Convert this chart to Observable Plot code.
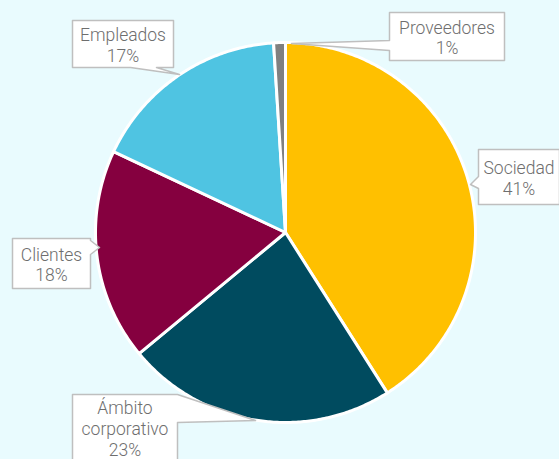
<!DOCTYPE html>
<html><head><meta charset="utf-8">
<script src="https://cdn.jsdelivr.net/npm/d3@7"></script>
<script src="https://cdn.jsdelivr.net/npm/@observablehq/plot@0.6"></script>
<style>
html,body{margin:0;padding:0;background:#e9fbfe;overflow:hidden;}
#chart svg{display:block;}
</style></head><body><div id="chart"></div>
<script>
// ---- data ----
const categories = ["Sociedad", "Ámbito corporativo", "Clientes", "Empleados", "Proveedores"];
const labelText = ["Sociedad", "Ámbito\ncorporativo", "Clientes", "Empleados", "Proveedores"];
const values = [41, 23, 18, 17, 1];
const colors = ["#FFC000", "#004B5F", "#85003F", "#4FC4E2", "#808080"];

// ---- layout (pixels) ----
const W = 559, H = 459, CX = 285, CY = 232, R = 190;
// callout boxes: [x0, x1, y0, y1], side of the pointer, pointer base [a, b], tip [x, y]
const callouts = [
  {box: [478, 559, 149, 204], side: "left", base: [176, 188], tip: [470, 184]},
  {box: [72, 177, 394, 470], side: "right", base: [394, 422], tip: [255, 420]},
  {box: [12, 90, 238, 288], side: "right", base: [240, 254], tip: [99, 247]},
  {box: [72, 173, 20, 67], side: "bottom", base: [130, 156], tip: [179, 74]},
  {box: [389, 504, 12, 60], side: "left", base: [40, 50], tip: [291, 43]}
];

const ux = px => (px - CX) / R;
const uy = py => (CY - py) / R;

const data = categories.map((c, i) => ({category: c, value: values[i], color: colors[i], text: labelText[i] + "\n" + values[i] + "%"}));
const arcs = d3.pie().sort(null).value(d => d.value)(data);

// slice polygons in unit coordinates (radius 1, y up)
const slicePts = [];
arcs.forEach(a => {
  const n = Math.max(4, Math.ceil((a.endAngle - a.startAngle) / 0.01));
  slicePts.push({k: a.data.category, c: a.data.color, x: 0, y: 0});
  for (let j = 0; j <= n; j++) {
    const t = a.startAngle + (a.endAngle - a.startAngle) * j / n;
    slicePts.push({k: a.data.category, c: a.data.color, x: Math.sin(t), y: Math.cos(t)});
  }
});

// callout polygons
const calloutPts = [];
callouts.forEach((co, i) => {
  const [x0, x1, y0, y1] = co.box, [a, b] = co.base, [tx, ty] = co.tip;
  let p;
  if (co.side === "left") p = [[x0,y0],[x1,y0],[x1,y1],[x0,y1],[x0,b],[tx,ty],[x0,a]];
  else if (co.side === "right") p = [[x0,y0],[x1,y0],[x1,a],[tx,ty],[x1,b],[x1,y1],[x0,y1]];
  else p = [[x0,y0],[x1,y0],[x1,y1],[b,y1],[tx,ty],[a,y1],[x0,y1]];
  p.forEach(([x, y]) => calloutPts.push({k: i, x: ux(x), y: uy(y)}));
});
const labelData = data.map((d, i) => {
  const [x0, x1, y0, y1] = callouts[i].box;
  const cy = i === 1 ? 428 : (y0 + y1) / 2 + 1;
  return {...d, x: ux((x0 + x1) / 2), y: uy(cy)};
});

const chart = Plot.plot({
  width: W, height: H, margin: 0,
  x: {domain: [ux(0), ux(W)], axis: null},
  y: {domain: [uy(H), uy(0)], axis: null},
  style: {background: "transparent"},
  marks: [
    Plot.line(slicePts, {x: "x", y: "y", z: "k", fill: d => d.c, stroke: "white", strokeWidth: 3, strokeLinejoin: "round", curve: "linear-closed"}),
    Plot.line(calloutPts, {x: "x", y: "y", z: "k", fill: "white", stroke: "#bfbfbf", strokeWidth: 1.5, curve: "linear-closed"}),
    Plot.text(labelData, {x: "x", y: "y", text: "text", fill: "#6e6e6e", fontSize: 17.5, lineHeight: 1.18, fontFamily: "Roboto", fontWeight: 300, textAnchor: "middle", lineAnchor: "middle"})
  ]
});
document.getElementById("chart").append(chart);
</script>
</body></html>
